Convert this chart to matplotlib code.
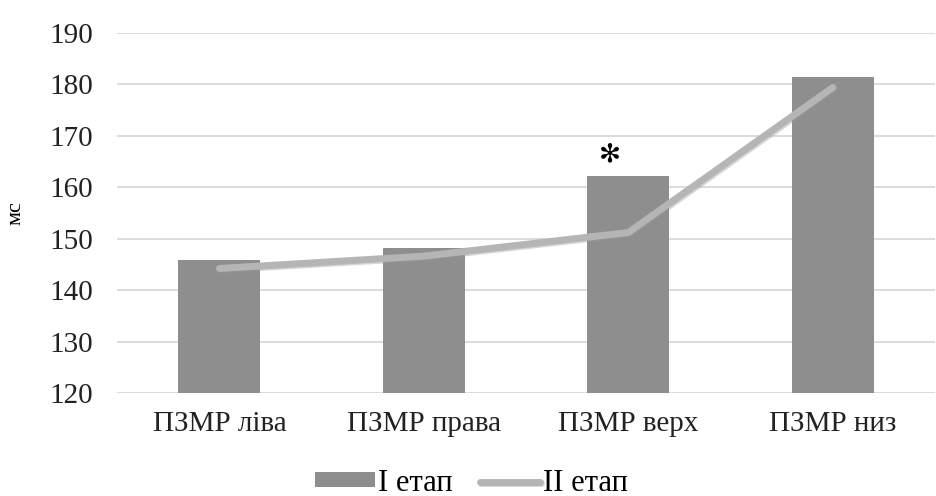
import matplotlib
matplotlib.use("Agg")
import matplotlib.pyplot as plt
import matplotlib.patheffects as pe
import numpy as np

categories = ["ПЗМР ліва", "ПЗМР права", "ПЗМР верх", "ПЗМР низ"]
stage1 = [145.8, 148.2, 162.2, 181.5]
stage2 = [144.2, 146.6, 151.2, 179.4]
series_names = ["І етап", "ІІ етап"]
yticks = [120, 130, 140, 150, 160, 170, 180, 190]
star_value = 166.3
star_index = 2

plt.rcParams['font.family'] = ['Liberation Serif', 'DejaVu Serif']

fig = plt.figure(figsize=(9.37, 4.96), dpi=100)
ax = fig.add_axes([0.125, 0.2077, 0.873, 0.726])

x = np.arange(len(categories))
bars = ax.bar(x, stage1, width=0.40, color='#8e8e8e', zorder=2,
              label=series_names[0])
for b in bars:
    b.set_path_effects([pe.SimplePatchShadow(offset=(0, 0), shadow_rgbFace='#d0d0d0', alpha=0.6), pe.Normal()])
line, = ax.plot(x, stage2, color='#b5b5b5', lw=5, solid_capstyle='round',
                solid_joinstyle='round', zorder=3, label=series_names[1],
                path_effects=[pe.SimpleLineShadow(offset=(1, -1), shadow_color='#999999', alpha=0.4), pe.Normal()])

ax.set_ylim(120, 190)
ax.set_xlim(-0.5, len(categories) - 0.5)
ax.set_yticks(yticks)
ax.set_xticks(x)
ax.set_xticklabels(categories, fontsize=21)
ax.tick_params(axis='y', length=0, pad=17, labelsize=21, labelcolor='#222222')
ax.tick_params(axis='x', length=0, pad=13, labelcolor='#222222')
ax.grid(axis='y', color='#d6d6d6', lw=1.2, zorder=0)
ax.set_axisbelow(True)
for s in ax.spines.values():
    s.set_visible(False)

ax.set_ylabel("мс", fontsize=16)
ax.yaxis.set_label_coords(-0.112, 0.50)

ax.text(x[star_index] - 0.09, star_value, "✻", family='DejaVu Sans', fontsize=19,
        ha='center', va='center', color='black', fontweight='bold')

fig.legend(handles=[bars, line], labels=series_names, loc='center',
           bbox_to_anchor=(0.503, 0.026), ncol=2, frameon=False, fontsize=22,
           handlelength=1.95, handletextpad=0.1, columnspacing=0.9,
           handleheight=0.35)

fig.savefig("out.png", dpi=100, facecolor='white')
